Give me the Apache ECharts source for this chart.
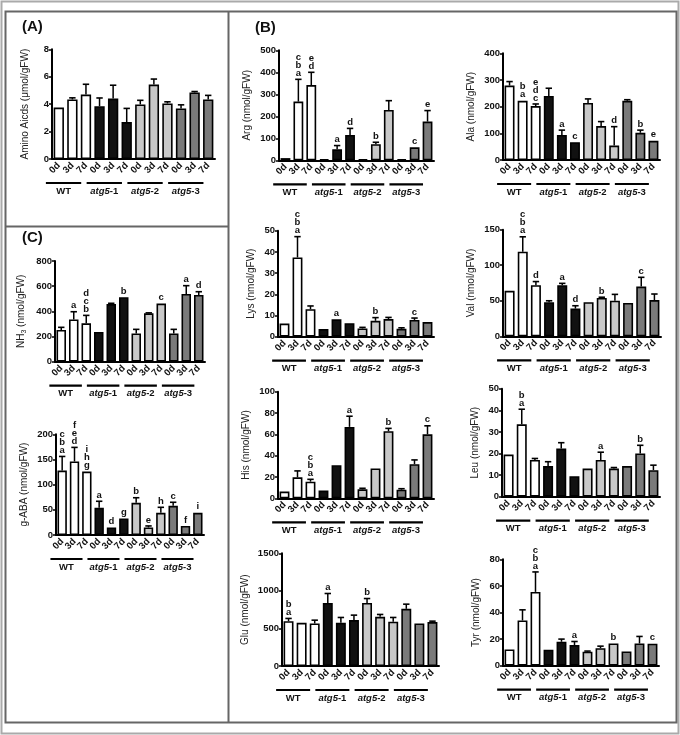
<!DOCTYPE html>
<html><head><meta charset="utf-8">
<script src="https://cdn.jsdelivr.net/npm/echarts@6/dist/echarts.min.js"></script>
<style>html,body{margin:0;padding:0;background:#fff}#c{width:680px;height:735px}</style>
</head><body><div id="c"></div>
<script>
// ---------- data ----------
const categories = ['0d','3d','7d','0d','3d','7d','0d','3d','7d','0d','3d','7d'];
const groups = ['WT','atg5-1','atg5-2','atg5-3'];

const aminoMean = [3.75,4.34,4.7,3.85,4.41,2.69,3.98,5.43,4.05,3.69,4.85,4.34];
const aminoSem  = [0,0.12,0.75,0.6,0.97,1.0,0.3,0.4,0.12,0.26,0.07,0.3];
const aminoLet  = ['','','','','','','','','','','',''];

const nh3Mean = [252,336,305,236,458,512,225,384,462,225,538,530];
const nh3Sem  = [21,61,63,0,6,0,32,4,0,32,66,26];
const nh3Let  = ['','a','dcb','','','b','','','c','','a','d'];

const gabaMean = [128,146,126,54,15,33,64,15,44,58,18,44];
const gabaSem  = [28,28,0,13,0,0,10,3,11,7,0,0];
const gabaLet  = ['cba','fed','ihg','a','d','g','b','e','h','c','f','i'];

const argMean = [10,267,342,5,50,115,5,73,229,5,59,176];
const argSem  = [0,101,58,0,17,30,0,9,42,0,0,50];
const argLet  = ['','cba','ed','','a','d','','b','','','c','e'];

const alaMean = [279,222,202,240,94,67,214,127,54,222,102,72];
const alaSem  = [15,0,8,29,18,0,15,17,71,4,10,0];
const alaLet  = ['','ba','edc','','a','c','','','d','','b','e'];

const lysMean = [6.2,37.4,13,3.6,8.2,6.4,3.9,7.5,8.3,3.7,7.9,6.9];
const lysSem  = [0,9.8,1.5,0,0,0,0.5,1.5,0.8,0.5,0.9,0];
const lysLet  = ['','cba','','','a','','','b','','','c',''];

const valMean = [64,119,72,48,72,39,48,54,50,47,70,51];
const valSem  = [0,21,5,2,2.5,4,0,1,9,0,13,8.5];
const valLet  = ['','cba','d','','a','d','','b','','','c',''];

const hisMean = [6.3,19.7,15.6,7.2,31,67,8.4,28,63,8.1,32,60];
const hisSem  = [0,6,2.2,0,0,10,1,0,2.6,0.9,4,8];
const hisLet  = ['','','cba','','','a','','','b','','','c'];

const leuMean = [19.5,33.5,17,14.2,22.3,9.5,13,17,13,14.2,20,12.3];
const leuSem  = [0,7,0.7,2,2.7,0,0,3.6,0.5,0,3.8,2.3];
const leuLet  = ['','ba','','','','','','a','','','b',''];

const gluMean = [597,575,566,840,575,611,840,655,589,761,566,584];
const gluSem  = [36,0,44,125,71,66,58,31,57,62,0,13];
const gluLet  = ['ba','','','a','','','b','','','','',''];

const tyrMean = [12.2,34,55.5,12,18,15.5,10.5,13.2,16.7,10.7,16.7,16.5];
const tyrSem  = [0,8,15,0,2,2.7,0.5,1.5,0,0,5.3,0];
const tyrLet  = ['','','cba','','','a','','','b','','','c'];

// ---------- layout / style ----------
const FONT = '"Liberation Sans", Arial, sans-serif';
const groupColors = ['#ffffff','#111111','#c8c8c8','#7a7a7a'];

const panels = [
  {name:'Amino Aicds (μmol/gFW)', mean:aminoMean, sem:aminoSem, lets:aminoLet, max:8, interval:2, rect:[52,49.3,163,109.7]},
  {name:'NH{s|3} (nmol/gFW)', mean:nh3Mean, sem:nh3Sem, lets:nh3Let, max:800, interval:200, rect:[55,261,150,100.7]},
  {name:'g-ABA (nmol/gFW)', mean:gabaMean, sem:gabaSem, lets:gabaLet, max:200, interval:50, rect:[56,434.3,148,100.7]},
  {name:'Arg (nmol/gFW)', mean:argMean, sem:argSem, lets:argLet, max:500, interval:100, rect:[279,50.3,155,110]},
  {name:'Ala (nmol/gFW)', mean:alaMean, sem:alaSem, lets:alaLet, max:400, interval:100, rect:[503,53.3,157,106.7]},
  {name:'Lys (nmol/gFW)', mean:lysMean, sem:lysSem, lets:lysLet, max:50, interval:10, rect:[278,230.7,156,106]},
  {name:'Val (nmol/gFW)', mean:valMean, sem:valSem, lets:valLet, max:150, interval:50, rect:[503,229.7,158,106.6]},
  {name:'His (nmol/gFW)', mean:hisMean, sem:hisSem, lets:hisLet, max:100, interval:20, rect:[278,391.7,156,106.6]},
  {name:'Leu (nmol/gFW)', mean:leuMean, sem:leuSem, lets:leuLet, max:50, interval:10, rect:[502,388.7,158,108]},
  {name:'Glu (nmol/gFW)', mean:gluMean, sem:gluSem, lets:gluLet, max:1500, interval:500, rect:[282,553.3,157,112.7]},
  {name:'Tyr (nmol/gFW)', mean:tyrMean, sem:tyrSem, lets:tyrLet, max:80, interval:20, rect:[503,559.3,156,106.4]}
];

function errRender(lets) {
  return function(params, api) {
    const i = api.value(0), m = api.value(1), s = api.value(2);
    const base = api.coord([i, m]);
    const top = api.coord([i, m + s]);
    const ch = [];
    if (s > 0) {
      ch.push({type:'line', shape:{x1:base[0],y1:base[1],x2:top[0],y2:top[1]}, style:{stroke:'#000',lineWidth:1.5}});
      ch.push({type:'line', shape:{x1:top[0]-3.2,y1:top[1],x2:top[0]+3.2,y2:top[1]}, style:{stroke:'#000',lineWidth:1.6}});
    }
    const L = lets[i];
    if (L) {
      ch.push({type:'text', style:{text:L.split('').join('\n'), x:top[0], y:top[1]-2, align:'center', verticalAlign:'bottom',
        font:'bold 9.5px ' + FONT, lineHeight:8, fill:'#111'}});
    }
    return {type:'group', children:ch};
  };
}

function groupRender(params, api) {
  const g = api.value(2);
  const band = api.size([1,0])[0];
  const p0 = api.coord([3*g, 0]);
  const p2 = api.coord([3*g+2, 0]);
  const x1 = p0[0] - 0.95*band, x2 = p2[0] - 0.35*band;
  const y = p0[1];
  const txt = g === 0 ? groups[0] : '{i|' + groups[g].split('-')[0] + '}-' + groups[g].split('-')[1];
  return {type:'group', children:[
    {type:'line', shape:{x1:x1,y1:y+24,x2:x2,y2:y+24}, style:{stroke:'#000',lineWidth:2.2}},
    {type:'text', style:{text:txt, x:(x1+x2)/2, y:y+32, align:'center', verticalAlign:'middle',
      font:'bold 9.5px ' + FONT, fill:'#111', rich:{i:{fontStyle:'italic', fontWeight:'bold', fontSize:9.5, fontFamily:FONT}}}}
  ]};
}

const grid = [], xAxis = [], yAxis = [], series = [];
panels.forEach((p, k) => {
  grid.push({left:p.rect[0], top:p.rect[1], width:p.rect[2], height:p.rect[3], containLabel:false});
  xAxis.push({type:'category', gridIndex:k, data:categories,
    axisLine:{lineStyle:{color:'#000', width:2}},
    axisTick:{alignWithLabel:true, length:3, lineStyle:{color:'#000', width:1.5}},
    axisLabel:{rotate:45, margin:5, fontSize:9.5, fontWeight:'bold', color:'#111', fontFamily:FONT, interval:0}});
  yAxis.push({type:'value', gridIndex:k, min:0, max:p.max, interval:p.interval,
    name:p.name, nameLocation:'middle', nameGap: p.max>=1000 ? 32 : (p.max>=100 ? 27 : 22),
    nameTextStyle:{fontSize:10, color:'#222', fontFamily:FONT, rich:{s:{fontSize:7, verticalAlign:'bottom', fontFamily:FONT, padding:[6,0,0,0]}}},
    splitLine:{show:false},
    axisLine:{show:true, lineStyle:{color:'#000', width:2}},
    axisTick:{show:true, length:3, lineStyle:{color:'#000', width:1.5}},
    axisLabel:{fontSize:9.5, fontWeight:'bold', color:'#111', fontFamily:FONT, margin:3, formatter:(v)=>String(v)}});
  series.push({type:'bar', xAxisIndex:k, yAxisIndex:k, barWidth:'76%', animation:false,
    data:p.mean.map((v,i)=>({value:v, itemStyle:{color:groupColors[Math.floor(i/3)], borderColor:'#000', borderWidth:1.6}}))});
  series.push({type:'custom', xAxisIndex:k, yAxisIndex:k, animation:false, renderItem:errRender(p.lets), z:5,
    data:p.mean.map((v,i)=>[i, v, p.sem[i]])});
  series.push({type:'custom', xAxisIndex:k, yAxisIndex:k, animation:false, renderItem:groupRender, z:5,
    data:groups.map((g,j)=>[3*j, 0, j])});
});

const graphic = [
  {type:'rect', shape:{x:1.5,y:1.5,width:677,height:732}, style:{fill:'none', stroke:'#aaa', lineWidth:2}},
  {type:'rect', shape:{x:5.5,y:11.5,width:671,height:711}, style:{fill:'none', stroke:'#666', lineWidth:2}},
  {type:'line', shape:{x1:228.5,y1:11.5,x2:228.5,y2:722.5}, style:{stroke:'#666', lineWidth:2}},
  {type:'line', shape:{x1:5.5,y1:226.5,x2:228.5,y2:226.5}, style:{stroke:'#666', lineWidth:2}},
  {type:'text', style:{text:'(A)', x:22, y:27, verticalAlign:'middle', font:'bold 15px ' + FONT, fill:'#111'}},
  {type:'text', style:{text:'(B)', x:255, y:28, verticalAlign:'middle', font:'bold 15px ' + FONT, fill:'#111'}},
  {type:'text', style:{text:'(C)', x:22, y:238, verticalAlign:'middle', font:'bold 15px ' + FONT, fill:'#111'}}
];

const chart = echarts.init(document.getElementById('c'), null, {renderer:'canvas'});
chart.setOption({animation:false, backgroundColor:'#fff', grid, xAxis, yAxis, series, graphic});
</script></body></html>
